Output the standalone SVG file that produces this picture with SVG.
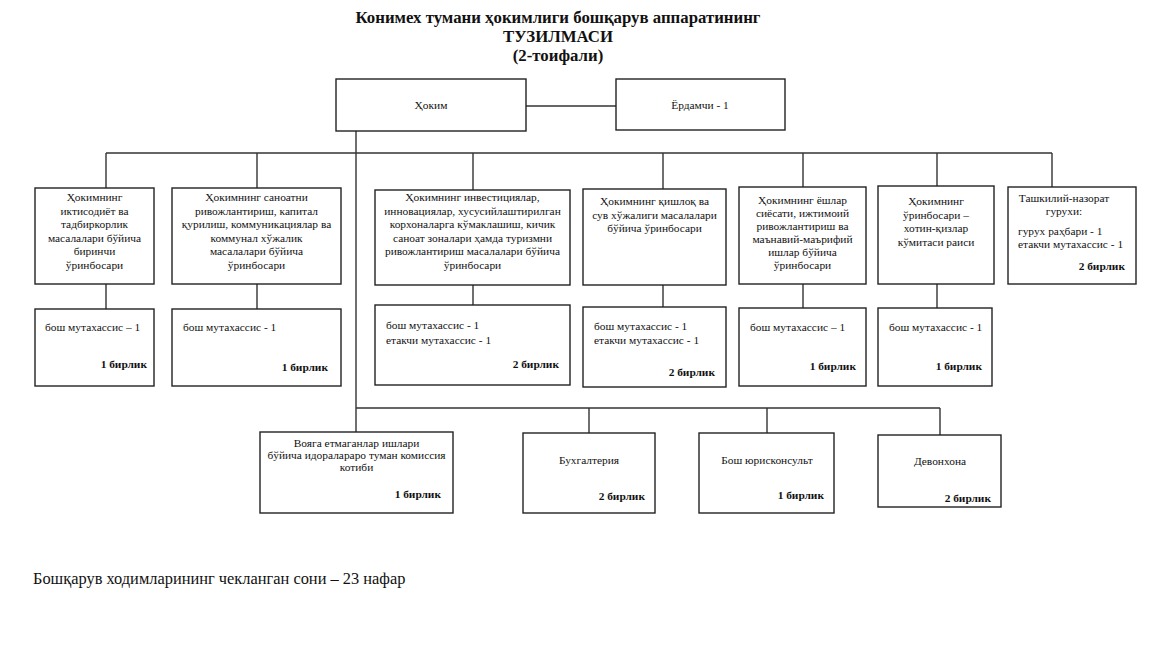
<svg xmlns="http://www.w3.org/2000/svg" width="1165" height="655" viewBox="0 0 1165 655">
<style>
rect{fill:#fff;stroke:#222;stroke-width:1.4}
.c line,.c polyline{stroke:#333;stroke-width:1.4;fill:none}
text{font-family:"Liberation Serif","Times New Roman",serif;fill:#111}
.t{font-size:16.8px;font-weight:bold;text-anchor:middle}
.n{font-size:11.4px;text-anchor:middle}
.l{font-size:11.4px}
.b{font-size:11.4px;font-weight:bold;text-anchor:end}
.f{font-size:16.4px}
</style>
<rect x="0" y="0" width="1165" height="655" style="stroke:none"/>
<g id="title">
<text class="t" x="558" y="23">Конимех тумани ҳокимлиги бошқарув аппаратининг</text>
<text class="t" x="558" y="42">ТУЗИЛМАСИ</text>
<text class="t" x="558" y="61">(2-тоифали)</text>
</g>
<g id="connectors" class="c">
<line x1="526" y1="106" x2="616" y2="106"/>
<line x1="356" y1="131" x2="356" y2="432"/>
<line x1="106" y1="153" x2="1052" y2="153"/>
<line x1="106" y1="153" x2="106" y2="188"/>
<line x1="257" y1="153" x2="257" y2="188"/>
<line x1="473" y1="153" x2="473" y2="190"/>
<line x1="663" y1="153" x2="663" y2="189"/>
<line x1="803" y1="153" x2="803" y2="187"/>
<line x1="937" y1="153" x2="937" y2="186"/>
<line x1="1052" y1="153" x2="1052" y2="187"/>
<line x1="106" y1="284" x2="106" y2="309"/>
<line x1="257" y1="284" x2="257" y2="309"/>
<line x1="473" y1="285" x2="473" y2="305"/>
<line x1="663" y1="285" x2="663" y2="307"/>
<line x1="803" y1="284" x2="803" y2="308"/>
<line x1="937" y1="284" x2="937" y2="308"/>
<line x1="356" y1="408" x2="940" y2="408"/>
<line x1="589" y1="408" x2="589" y2="433"/>
<line x1="767" y1="408" x2="767" y2="433"/>
<line x1="940" y1="408" x2="940" y2="435"/>
</g>
<g id="hokim"><rect x="336" y="79" width="190" height="52"/><text class="n" x="431" y="109">Ҳоким</text></g>
<g id="yordamchi"><rect x="616" y="79" width="169" height="51"/><text class="n" x="700" y="109">Ёрдамчи - 1</text></g>
<g id="d1"><rect x="35" y="188" width="119" height="96"/>
<text class="n" x="94.5" y="201">Ҳокимнинг</text>
<text class="n" x="94.5" y="214.5">иктисодиёт ва</text>
<text class="n" x="94.5" y="228">тадбиркорлик</text>
<text class="n" x="94.5" y="241.5">масалалари бўйича</text>
<text class="n" x="94.5" y="255">биринчи</text>
<text class="n" x="94.5" y="268.5">ўринбосари</text></g>
<g id="d2"><rect x="172" y="188" width="169" height="96"/>
<text class="n" x="256.5" y="201">Ҳокимнинг саноатни</text>
<text class="n" x="256.5" y="214.5">ривожлантириш, капитал</text>
<text class="n" x="256.5" y="228">қурилиш, коммуникациялар ва</text>
<text class="n" x="256.5" y="241.5">коммунал хўжалик</text>
<text class="n" x="256.5" y="255">масалалари бўйича</text>
<text class="n" x="256.5" y="268.5">ўринбосари</text></g>
<g id="d3"><rect x="375" y="190" width="195" height="95"/>
<text class="n" x="472.5" y="201">Ҳокимнинг инвестициялар,</text>
<text class="n" x="472.5" y="214.5">инновациялар, хусусийлаштирилган</text>
<text class="n" x="472.5" y="228">корхоналарга кўмаклашиш, кичик</text>
<text class="n" x="472.5" y="241.5">саноат зоналари ҳамда туризмни</text>
<text class="n" x="472.5" y="255">ривожлантириш масалалари бўйича</text>
<text class="n" x="472.5" y="268.5">ўринбосари</text></g>
<g id="d4"><rect x="583" y="189" width="143" height="96"/>
<text class="n" x="654.5" y="205">Ҳокимнинг қишлоқ ва</text>
<text class="n" x="654.5" y="218.5">сув хўжалиги масалалари</text>
<text class="n" x="654.5" y="232">бўйича ўринбосари</text></g>
<g id="d5"><rect x="739" y="187" width="127" height="97"/>
<text class="n" x="802.5" y="204">Ҳокимнинг ёшлар</text>
<text class="n" x="802.5" y="217">сиёсати, ижтимоий</text>
<text class="n" x="802.5" y="230">ривожлантириш ва</text>
<text class="n" x="802.5" y="243">маънавий-маърифий</text>
<text class="n" x="802.5" y="256">ишлар бўйича</text>
<text class="n" x="802.5" y="269">ўринбосари</text></g>
<g id="d6"><rect x="878" y="186" width="116" height="98"/>
<text class="n" x="936" y="205">Ҳокимнинг</text>
<text class="n" x="936" y="219">ўринбосари –</text>
<text class="n" x="936" y="232">хотин-қизлар</text>
<text class="n" x="936" y="246">кўмитаси раиси</text></g>
<g id="d7"><rect x="1008" y="187" width="128" height="97"/>
<text class="n" x="1064" y="202">Ташкилий-назорат</text>
<text class="n" x="1064" y="215">гурухи:</text>
<text class="l" x="1018" y="235">гурух раҳбари - 1</text>
<text class="l" x="1018" y="248">етакчи мутахассис - 1</text>
<text class="b" x="1125" y="270">2 бирлик</text></g>
<g id="s1"><rect x="35" y="309" width="119" height="77"/>
<text class="l" x="45" y="331">бош мутахассис – 1</text>
<text class="b" x="147" y="368">1 бирлик</text></g>
<g id="s2"><rect x="172" y="309" width="169" height="77"/>
<text class="l" x="183" y="331">бош мутахассис - 1</text>
<text class="b" x="328" y="371">1 бирлик</text></g>
<g id="s3"><rect x="375" y="305" width="195" height="80"/>
<text class="l" x="386" y="329">бош мутахассис - 1</text>
<text class="l" x="386" y="344">етакчи мутахассис - 1</text>
<text class="b" x="559" y="368">2 бирлик</text></g>
<g id="s4"><rect x="583" y="307" width="143" height="80"/>
<text class="l" x="594" y="330">бош мутахассис - 1</text>
<text class="l" x="594" y="344">етакчи мутахассис - 1</text>
<text class="b" x="715" y="376">2 бирлик</text></g>
<g id="s5"><rect x="739" y="308" width="127" height="78"/>
<text class="l" x="750" y="331">бош мутахассис – 1</text>
<text class="b" x="856" y="370">1 бирлик</text></g>
<g id="s6"><rect x="878" y="308" width="114" height="78"/>
<text class="l" x="889" y="331">бош мутахассис - 1</text>
<text class="b" x="982" y="370">1 бирлик</text></g>
<g id="voyaga"><rect x="260" y="432" width="193" height="81"/>
<text class="n" x="356.5" y="447">Вояга етмаганлар ишлари</text>
<text class="n" x="356.5" y="459">бўйича идоралараро туман комиссия</text>
<text class="n" x="356.5" y="471">котиби</text>
<text class="b" x="441" y="498">1 бирлик</text></g>
<g id="bukh"><rect x="523" y="433" width="132" height="80"/>
<text class="n" x="589" y="464">Бухгалтерия</text>
<text class="b" x="645" y="500">2 бирлик</text></g>
<g id="yurist"><rect x="699" y="433" width="135" height="80"/>
<text class="n" x="767" y="464">Бош юрисконсульт</text>
<text class="b" x="824" y="499">1 бирлик</text></g>
<g id="devon"><rect x="878" y="435" width="123" height="72"/>
<text class="n" x="940" y="465">Девонхона</text>
<text class="b" x="991" y="502">2 бирлик</text></g>
<g id="footer"><text class="f" x="33" y="584">Бошқарув ходимларининг чекланган сони – 23 нафар</text></g>
</svg>
